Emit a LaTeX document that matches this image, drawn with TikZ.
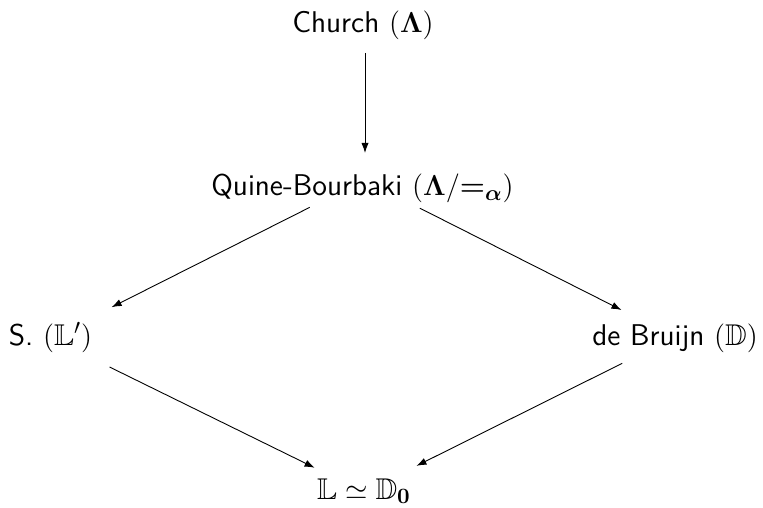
\documentclass[tikz,border=0pt]{standalone}
\usepackage{amsmath,amssymb}
\usetikzlibrary{arrows.meta}
\begin{document}
\begin{tikzpicture}[x=0.5pt,y=-0.5pt,
  lbl/.style={font=\fontsize{15}{18}\selectfont\sffamily, inner sep=0pt, anchor=base},
  arr/.style={-{Latex[length=5pt,width=3.6pt]}, line width=0.45pt}]
\useasboundingbox (0,0) rectangle (763,507);
\node[lbl] (church) at (363,33) {Church $(\mathbf{\Lambda})$};
\node[lbl] (qb) at (362.5,196) {Quine-Bourbaki $(\boldsymbol{\Lambda}/{\boldsymbol{=}_{\boldsymbol{\alpha}}})$};
\node[lbl] (s) at (50.5,345) {S. $(\mathbb{L}')$};
\node[lbl] (db) at (675,345) {de Bruijn $(\mathbb{D})$};
\node[lbl] (l) at (364,499) {$\mathbb{L}\simeq\mathbb{D}_{\mathbf{0}}$};
\draw[arr, shorten <=10pt, shorten >=13.5pt] ([xshift=1pt]church.base) -- ([shift={(1.25pt,8pt)}]qb.base);
\draw[arr, shorten <=30.4pt, shorten >=34.2pt] ([shift={(0.75pt,8pt)}]qb.base) -- ([yshift=3.5pt]s.base);
\draw[arr, shorten <=31.3pt, shorten >=30pt] ([shift={(0.75pt,8pt)}]qb.base) -- ([yshift=4pt]db.base);
\draw[arr, shorten <=32.9pt, shorten >=27.5pt] ([yshift=3.5pt]s.base) -- ([yshift=3.5pt]l.base);
\draw[arr, shorten <=29.5pt, shorten >=29.3pt] ([yshift=4pt]db.base) -- ([yshift=3.5pt]l.base);
\end{tikzpicture}
\end{document}
